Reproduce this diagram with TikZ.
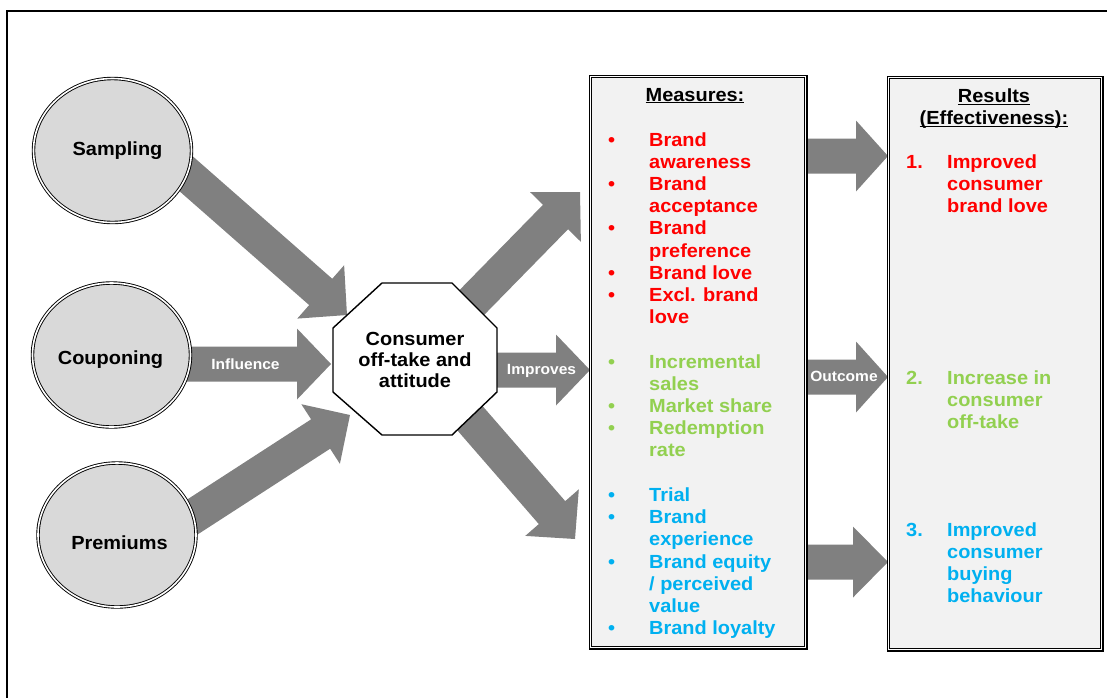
\documentclass[tikz,border=0pt]{standalone}
\usepackage{fontspec}
\setmainfont{Liberation Sans}[FakeStretch=1.05]
\usetikzlibrary{calc,shapes.geometric,backgrounds}
\definecolor{arrowgray}{HTML}{808080}
\definecolor{ellfill}{HTML}{D9D9D9}
\definecolor{boxfill}{HTML}{F2F2F2}
\definecolor{mred}{HTML}{FF0000}
\definecolor{mgreen}{HTML}{92D050}
\definecolor{mblue}{HTML}{00B0F0}

% block arrow from #2 (tail) to #3 (tip); #1 = head length
\newcommand\blockarrow[3][34pt]{%
  \coordinate (ba) at ($(#3)!#1!(#2)$);
  \fill[arrowgray]
    ($(#2)!17.5pt!90:(#3)$) -- ($(ba)!17.5pt!90:(#3)$) -- ($(ba)!35.5pt!90:(#3)$) --
    (#3) --
    ($(ba)!35.5pt!-90:(#3)$) -- ($(ba)!17.5pt!-90:(#3)$) -- ($(#2)!17.5pt!-90:(#3)$) -- cycle;
}

\begin{document}
\begin{tikzpicture}[x=1pt,y=-1pt,
  big/.style={font=\fontsize{19}{22.2}\selectfont\bfseries},
  ell/.style={ellipse, draw=black, double=white, double distance=1.6pt, line width=0.9pt,
              fill=ellfill, minimum width=158pt, minimum height=144pt, inner sep=0pt},
  elltext/.style={big, anchor=base, text=black},
  octo/.style={draw=black, line width=1.4pt, fill=white},
  box/.style={draw=black, double=white, double distance=1.4pt, line width=1.1pt,
              fill=boxfill, anchor=north west, inner sep=0pt},
  listtext/.style={big, anchor=base west, inner sep=0pt},
  arrowlabel/.style={font=\fontsize{14.8}{16}\selectfont\bfseries, text=white, anchor=base, inner sep=0pt}]

\useasboundingbox (0,0) rectangle (1107,697);
\clip (0,0) rectangle (1107,697);

% outer frame
\draw[line width=2.2pt] (7,11) rectangle (1140,720);

% promotion tools
\node[ell] (samp) at (112.5,150.5) {};
\node[ell] (coup) at (111.5,355) {};
\node[ell] (prem) at (117,535) {};
\node[elltext] (samptxt) at (117.5,155) {Sampling};
\node[elltext] (couptxt) at (110.5,364) {Couponing};
\node[elltext] (premtxt) at (119.5,549) {Premiums};

% central octagon
\draw[octo] (382,283) -- (452,283) -- (497,328) -- (497,392) -- (452,435) -- (382,435) -- (333,392) -- (333,328) -- cycle;
\node[big, anchor=base, inner sep=0pt] (cons) at (415,345)
  {\fontsize{19}{21}\selectfont\begin{tabular}[t]{@{}c@{}}Consumer\\off-take and\\attitude\end{tabular}};

% measures box
\node[box, minimum width=215.4pt, minimum height=571.4pt] (meas) at (589.8,75.8) {};
\node[big, anchor=base, inner sep=0pt] (meashead) at (695,101) {\underline{\smash{Measures:}}};
\node[listtext, text=mred] (mred) at (608,146) {\begin{tabular}[t]{@{}p{41pt}@{}l@{}}
  \textbullet & Brand\\ & awareness\\
  \textbullet & Brand\\ & acceptance\\
  \textbullet & Brand\\ & preference\\
  \textbullet & Brand love\\
  \textbullet & Excl. brand\\ & love\end{tabular}};
\node[listtext, text=mgreen] (mgreen) at (608,368) {\begin{tabular}[t]{@{}p{41pt}@{}l@{}}
  \textbullet & Incremental\\ & sales\\
  \textbullet & Market share\\
  \textbullet & Redemption\\ & rate\end{tabular}};
\node[listtext, text=mblue] (mblue) at (608,501.5) {\begin{tabular}[t]{@{}p{41pt}@{}l@{}}
  \textbullet & Trial\\
  \textbullet & Brand\\ & experience\\
  \textbullet & Brand equity\\ & / perceived\\ & value\\
  \textbullet & Brand loyalty\end{tabular}};

% results box
\node[box, minimum width=213.4pt, minimum height=572.4pt] (res) at (887.8,76.8) {};
\node[big, anchor=base, inner sep=0pt] (reshead) at (994,102.5)
  {\begin{tabular}[t]{@{}c@{}}\underline{\smash{Results}}\\\underline{\smash{(Effectiveness):}}\end{tabular}};
\node[listtext, text=mred] (res1) at (906,168) {\begin{tabular}[t]{@{}p{41pt}@{}l@{}}
  1. & Improved\\ & consumer\\ & brand love\end{tabular}};
\node[listtext, text=mgreen] (res2) at (906,384) {\begin{tabular}[t]{@{}p{41pt}@{}l@{}}
  2. & Increase in\\ & consumer\\ & off-take\end{tabular}};
\node[listtext, text=mblue] (res3) at (906,536) {\begin{tabular}[t]{@{}p{41pt}@{}l@{}}
  3. & Improved\\ & consumer\\ & buying\\ & behaviour\end{tabular}};

% arrow ends
\coordinate (sampout) at (175,164);   \coordinate (consinA) at (347,315);
\coordinate (coupout) at (180,364);   \coordinate (consinB) at (331,364);
\coordinate (premout) at (180,525);   \coordinate (consinC) at (350,415);
\coordinate (consoutA) at (440,335);  \coordinate (measinA) at (580,192);
\coordinate (consoutB) at (480,370);  \coordinate (measinB) at (590,370);
\coordinate (consoutC) at (455,401);  \coordinate (measinC) at (575,539);
\coordinate (measoutA) at (800,156);  \coordinate (resinA) at (888,156);
\coordinate (measoutB) at (800,377);  \coordinate (resinB) at (888,377);
\coordinate (measoutC) at (800,562);  \coordinate (resinC) at (888,562);

\begin{pgfonlayer}{background}
  \blockarrow[35pt]{sampout}{consinA}
  \blockarrow{coupout}{consinB}
  \blockarrow[35pt]{premout}{consinC}
  \blockarrow[35pt]{consoutA}{measinA}
  \blockarrow{consoutB}{measinB}
  \blockarrow[35pt]{consoutC}{measinC}
  \blockarrow[32pt]{measoutA}{resinA}
  \blockarrow[32pt]{measoutB}{resinB}
  \blockarrow[35pt]{measoutC}{resinC}
\end{pgfonlayer}

% arrow labels
\node[arrowlabel] (lblinfl) at (245.5,369) {Influence};
\node[arrowlabel] (lblimpr) at (541.5,374.5) {Improves};
\node[arrowlabel] (lblout) at (844,381.5) {Outcome};
\end{tikzpicture}
\end{document}
